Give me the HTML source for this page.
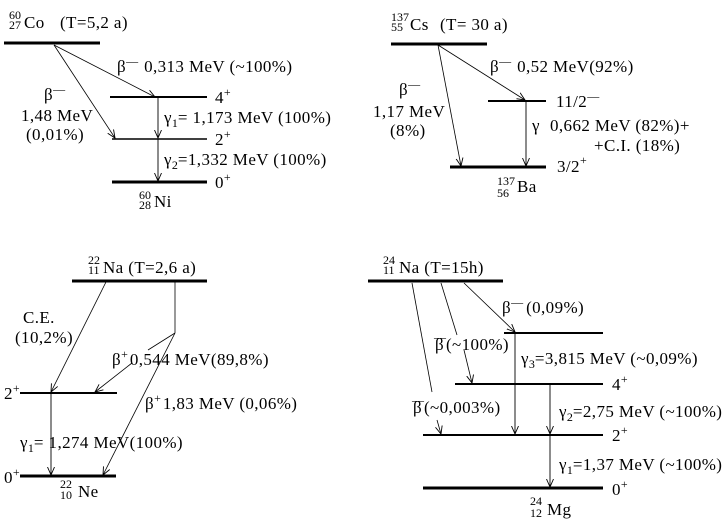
<!DOCTYPE html>
<html><head><meta charset="utf-8"><style>
html,body{margin:0;padding:0;background:#fff;}
svg{display:block;}
text{font-family:"Liberation Serif",serif;font-size:17px;letter-spacing:0.4px;fill:#000;}
.s{font-size:12px;letter-spacing:0;}
</style></head><body>
<svg width="728" height="526" viewBox="0 0 728 526" xmlns="http://www.w3.org/2000/svg">
<defs>
<marker id="a" markerWidth="10" markerHeight="10" refX="8" refY="4" orient="auto" markerUnits="userSpaceOnUse">
<polyline points="0,0.5 8,4 0,7.5" fill="none" stroke="#000" stroke-width="0.9"/>
</marker>
</defs>
<g stroke="#000" fill="none">
<line x1="4" y1="43" x2="100" y2="43" stroke-width="3"/>
<line x1="110" y1="97" x2="207" y2="97" stroke-width="2"/>
<line x1="112" y1="139" x2="207" y2="139" stroke-width="1.5"/>
<line x1="112" y1="182" x2="207" y2="182" stroke-width="3"/>
<line x1="54" y1="45" x2="155" y2="97" stroke-width="0.8" marker-end="url(#a)"/>
<line x1="54" y1="45" x2="115" y2="138" stroke-width="0.8" marker-end="url(#a)"/>
<line x1="158" y1="97" x2="158" y2="138" stroke-width="0.9" marker-end="url(#a)"/>
<line x1="158" y1="139" x2="158" y2="181" stroke-width="0.9" marker-end="url(#a)"/>
<line x1="391" y1="44" x2="487" y2="44" stroke-width="3"/>
<line x1="488" y1="101" x2="546" y2="101" stroke-width="2"/>
<line x1="450" y1="167" x2="546" y2="167" stroke-width="3"/>
<line x1="438" y1="45" x2="461" y2="166" stroke-width="0.8" marker-end="url(#a)"/>
<line x1="438" y1="45" x2="525" y2="100" stroke-width="0.8" marker-end="url(#a)"/>
<line x1="526" y1="101" x2="526" y2="166" stroke-width="0.9" marker-end="url(#a)"/>
<line x1="72" y1="281" x2="207" y2="281" stroke-width="3"/>
<line x1="20" y1="393" x2="117" y2="393" stroke-width="2"/>
<line x1="20" y1="476" x2="116" y2="476" stroke-width="3"/>
<line x1="106" y1="282" x2="51" y2="392" stroke-width="0.8" marker-end="url(#a)"/>
<polyline points="175,282 175,333" stroke-width="0.8"/>
<line x1="175" y1="333" x2="148" y2="350" stroke-width="0.8"/>
<line x1="132" y1="363" x2="95" y2="392" stroke-width="0.8" marker-end="url(#a)"/>
<line x1="175" y1="333" x2="103" y2="475" stroke-width="0.8" marker-end="url(#a)"/>
<line x1="51" y1="393" x2="51" y2="475" stroke-width="0.9" marker-end="url(#a)"/>
<line x1="368" y1="281" x2="503" y2="281" stroke-width="3"/>
<line x1="504" y1="333" x2="603" y2="333" stroke-width="2"/>
<line x1="455" y1="384" x2="603" y2="384" stroke-width="2"/>
<line x1="423" y1="435" x2="603" y2="435" stroke-width="2"/>
<line x1="423" y1="488" x2="603" y2="488" stroke-width="3"/>
<line x1="412" y1="283" x2="432" y2="392" stroke-width="0.8"/>
<line x1="437" y1="420" x2="441" y2="434" stroke-width="0.8" marker-end="url(#a)"/>
<line x1="441" y1="283" x2="457" y2="335" stroke-width="0.8"/>
<line x1="464" y1="350" x2="472" y2="383" stroke-width="0.8" marker-end="url(#a)"/>
<line x1="464" y1="283" x2="515" y2="332" stroke-width="0.8" marker-end="url(#a)"/>
<line x1="515" y1="333" x2="515" y2="434" stroke-width="0.9" marker-end="url(#a)"/>
<line x1="550" y1="384" x2="550" y2="434" stroke-width="0.9" marker-end="url(#a)"/>
<line x1="550" y1="435" x2="550" y2="487" stroke-width="0.9" marker-end="url(#a)"/>
</g>
<text class="s" x="9" y="19">60</text><text class="s" x="9" y="29">27</text><text x="24" y="28">Co</text>
<text x="60" y="28">(T=5,2 a)</text>
<text x="117" y="72">β<tspan class="s" dy="-7">—</tspan><tspan dy="7" dx="6">0,313 MeV (~100%)</tspan></text>
<text x="44" y="100">β<tspan class="s" dy="-7">—</tspan></text>
<text x="21" y="121">1,48 MeV</text>
<text x="26" y="140">(0,01%)</text>
<text x="215" y="103">4<tspan class="s" dy="-7">+</tspan></text>
<text x="164" y="123">γ<tspan class="s" dy="4">1</tspan><tspan dy="-4">= 1,173 MeV (100%)</tspan></text>
<text x="215" y="145">2<tspan class="s" dy="-7">+</tspan></text>
<text x="164" y="165">γ<tspan class="s" dy="4">2</tspan><tspan dy="-4">=1,332 MeV (100%)</tspan></text>
<text x="215" y="188">0<tspan class="s" dy="-7">+</tspan></text>
<text class="s" x="139" y="199">60</text><text class="s" x="139" y="209">28</text><text x="154" y="207">Ni</text>
<text class="s" x="391" y="21">137</text><text class="s" x="391" y="31">55</text><text x="410" y="30">Cs</text>
<text x="440" y="30">(T= 30 a)</text>
<text x="490" y="72">β<tspan class="s" dy="-7">—</tspan><tspan dy="7" dx="6">0,52 MeV(92%)</tspan></text>
<text x="399" y="95">β<tspan class="s" dy="-7">—</tspan></text>
<text x="373" y="117">1,17 MeV</text>
<text x="390" y="136">(8%)</text>
<text x="556" y="107">11/2<tspan class="s" dy="-7">—</tspan></text>
<text x="532" y="131">γ</text>
<text x="550" y="131">0,662 MeV (82%)+</text>
<text x="594" y="151">+C.I. (18%)</text>
<text x="557" y="172">3/2<tspan class="s" dy="-8">+</tspan></text>
<text class="s" x="497" y="185">137</text><text class="s" x="497" y="197">56</text><text x="517" y="192">Ba</text>
<text class="s" x="88" y="264">22</text><text class="s" x="88" y="274">11</text><text x="103" y="273">Na (T=2,6 a)</text>
<text x="23" y="323">C.E.</text>
<text x="15" y="343">(10,2%)</text>
<text x="112" y="365">β<tspan class="s" dy="-7">+</tspan><tspan dy="7" dx="2">0,544 MeV(89,8%)</tspan></text>
<text x="4" y="399">2<tspan class="s" dy="-7">+</tspan></text>
<text x="145" y="409">β<tspan class="s" dy="-7">+</tspan><tspan dy="7" dx="2">1,83 MeV  (0,06%)</tspan></text>
<text x="20" y="448">γ<tspan class="s" dy="4">1</tspan><tspan dy="-4">= 1,274 MeV(100%)</tspan></text>
<text x="4" y="483">0<tspan class="s" dy="-7">+</tspan></text>
<text class="s" x="60" y="488">22</text><text class="s" x="60" y="499">10</text><text x="78" y="497">Ne</text>
<text class="s" x="383" y="264">24</text><text class="s" x="383" y="274">11</text><text x="399" y="273">Na (T=15h)</text>
<text x="502" y="313">β<tspan class="s" dy="-7">—</tspan><tspan dy="7" dx="3">(0,09%)</tspan></text>
<text x="434" y="350">β<tspan class="s" dy="-9" dx="-10">—</tspan><tspan dy="9">(~100%)</tspan></text>
<text x="521" y="364">γ<tspan class="s" dy="4">3</tspan><tspan dy="-4">=3,815 MeV (~0,09%)</tspan></text>
<text x="612" y="390">4<tspan class="s" dy="-7">+</tspan></text>
<text x="412" y="413">β<tspan class="s" dy="-9" dx="-10">—</tspan><tspan dy="9">(~0,003%)</tspan></text>
<text x="559" y="417">γ<tspan class="s" dy="4">2</tspan><tspan dy="-4">=2,75 MeV (~100%)</tspan></text>
<text x="612" y="441">2<tspan class="s" dy="-7">+</tspan></text>
<text x="559" y="470">γ<tspan class="s" dy="4">1</tspan><tspan dy="-4">=1,37 MeV (~100%)</tspan></text>
<text x="612" y="495">0<tspan class="s" dy="-7">+</tspan></text>
<text class="s" x="530" y="505">24</text><text class="s" x="530" y="517">12</text><text x="547" y="515">Mg</text>
</svg>
</body></html>
